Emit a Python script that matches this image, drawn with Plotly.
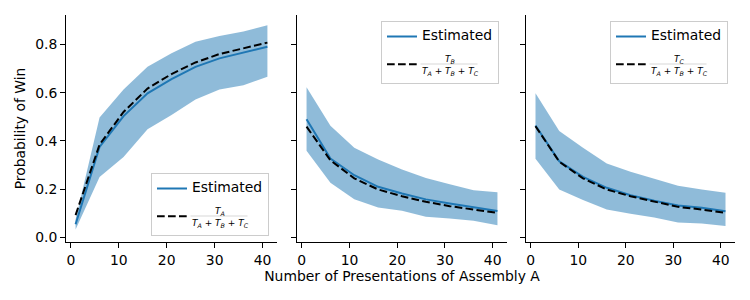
import plotly.graph_objects as go

# ---------------- data ----------------
x_presentations = [1, 6, 11, 16, 21, 26, 31, 36, 41]

est_A = [0.055, 0.375, 0.503, 0.597, 0.656, 0.707, 0.742, 0.765, 0.790]
ratio_A = [0.093, 0.385, 0.520, 0.617, 0.677, 0.725, 0.760, 0.783, 0.807]
upper_A = [0.075, 0.497, 0.613, 0.707, 0.763, 0.811, 0.835, 0.853, 0.879]
lower_A = [0.033, 0.251, 0.334, 0.448, 0.507, 0.572, 0.613, 0.631, 0.666]

est_B = [0.490, 0.327, 0.258, 0.210, 0.182, 0.158, 0.141, 0.124, 0.110]
ratio_B = [0.459, 0.320, 0.245, 0.199, 0.171, 0.148, 0.130, 0.116, 0.102]
upper_B = [0.622, 0.463, 0.372, 0.323, 0.282, 0.247, 0.221, 0.196, 0.187]
lower_B = [0.359, 0.227, 0.159, 0.124, 0.111, 0.086, 0.079, 0.069, 0.051]

est_C = [0.464, 0.316, 0.251, 0.206, 0.175, 0.152, 0.133, 0.123, 0.109]
ratio_C = [0.461, 0.314, 0.245, 0.199, 0.171, 0.149, 0.127, 0.116, 0.102]
upper_C = [0.597, 0.441, 0.372, 0.307, 0.272, 0.242, 0.214, 0.199, 0.185]
lower_C = [0.326, 0.199, 0.155, 0.116, 0.099, 0.083, 0.062, 0.058, 0.048]

x_ticks = [0, 10, 20, 30, 40]
y_ticks = [0.0, 0.2, 0.4, 0.6, 0.8]
y_tick_labels = ["0.0", "0.2", "0.4", "0.6", "0.8"]

x_label = "Number of Presentations of Assembly A"
y_label = "Probability of Win"
est_name = "Estimated"
subs = ["A", "B", "C"]

# ---------------- style ----------------
BLUE = "#1f77b4"
BAND = "rgba(31,119,180,0.5)"
FONT = "DejaVu Sans"
W, H = 750, 300
ML, MR, MT, MB = 0, 0, 15, 58
PLOT_BOTTOM = H - MB
PLOT_H = H - MT - MB


def T(s):
    return ("<i>T<span style='font-size:70%%;baseline-shift:-2px'>%s</span></i>" % s)


den = " + ".join(T(s) for s in subs)
pad = "&nbsp;" * 8


def frac_label(k):
    return pad + T(subs[k]) + "<br>" + den


est_label = "<span style='font-size:13.9px'>%s</span>" % est_name

panels = [
    (est_A, ratio_A, upper_A, lower_A),
    (est_B, ratio_B, upper_B, lower_B),
    (est_C, ratio_C, upper_C, lower_C),
]
xdomains = [[66 / W, 277 / W], [297 / W, 507 / W], [526 / W, 735 / W]]
legend_ids = ["legend", "legend2", "legend3"]
# legend box placement (top edge px, right edge px)
legend_pos = [(173, 269), (21, 499), (21, 728)]

fig = go.Figure()
for i, (est, ratio, up, lo) in enumerate(panels):
    xa = "x" if i == 0 else "x%d" % (i + 1)
    ya = "y" if i == 0 else "y%d" % (i + 1)
    fig.add_trace(go.Scatter(x=x_presentations, y=lo, mode="lines", line=dict(width=0, color=BAND),
                             showlegend=False, hoverinfo="skip", xaxis=xa, yaxis=ya))
    fig.add_trace(go.Scatter(x=x_presentations, y=up, mode="lines", line=dict(width=0, color=BAND),
                             fill="tonexty", fillcolor=BAND, showlegend=False, hoverinfo="skip",
                             xaxis=xa, yaxis=ya))
    fig.add_trace(go.Scatter(x=x_presentations, y=est, mode="lines", name=est_label,
                             line=dict(color=BLUE, width=2), legend=legend_ids[i],
                             legendgroup="est%d" % i, xaxis=xa, yaxis=ya))
    fig.add_trace(go.Scatter(x=x_presentations, y=ratio, mode="lines", name=frac_label(i),
                             line=dict(color="black", width=2, dash="7.7px,3.3px"), legend=legend_ids[i],
                             legendgroup="ratio%d" % i, xaxis=xa, yaxis=ya))

axis_common = dict(showline=True, linecolor="black", linewidth=1, ticks="outside", ticklen=5,
                   tickwidth=1, tickcolor="black", showgrid=False, zeroline=False,
                   tickfont=dict(family=FONT, size=13.9, color="black"))

layout = dict(width=W, height=H, margin=dict(l=ML, r=MR, t=MT, b=MB),
              plot_bgcolor="white", paper_bgcolor="white",
              font=dict(family=FONT, color="black"))
for i in range(3):
    xk = "xaxis" if i == 0 else "xaxis%d" % (i + 1)
    yk = "yaxis" if i == 0 else "yaxis%d" % (i + 1)
    layout[xk] = dict(axis_common, domain=xdomains[i], range=[-1, 43], tickvals=x_ticks,
                      anchor="y" if i == 0 else "y%d" % (i + 1))
    layout[yk] = dict(axis_common, domain=[0, 1], range=[-0.0185, 0.9215], tickvals=y_ticks,
                      ticktext=y_tick_labels, anchor="x" if i == 0 else "x%d" % (i + 1),
                      showticklabels=(i == 0))
    if i > 0:
        layout[yk]["matches"] = "y"
layout["yaxis"]["title"] = dict(text=y_label, font=dict(family=FONT, size=13.9, color="black"), standoff=6)
layout["xaxis2"]["title"] = dict(text=x_label, font=dict(family=FONT, size=13.9, color="black"), standoff=4)

legend_common = dict(bgcolor="rgba(255,255,255,0.8)", bordercolor="#cccccc", borderwidth=1,
                     font=dict(family=FONT, size=9, color="black"), traceorder="grouped",
                     tracegroupgap=5, xanchor="right", yanchor="top")
for lid, (top, right) in zip(legend_ids, legend_pos):
    layout[lid] = dict(legend_common, x=right / W, y=(PLOT_BOTTOM - top) / PLOT_H)

fig.update_layout(**layout)

# fraction bars inside the legend labels
for (top, right) in legend_pos:
    x0 = right - 78.5
    ybar = (PLOT_BOTTOM - (top + 43)) / PLOT_H
    fig.add_shape(type="line", xref="paper", yref="paper", x0=x0 / W, x1=(x0 + 57) / W,
                  y0=ybar, y1=ybar, line=dict(color="black", width=0.8), layer="above")

fig.write_html("out.html", config={"displayModeBar": False},
               post_script="document.body.style.margin='0';")
